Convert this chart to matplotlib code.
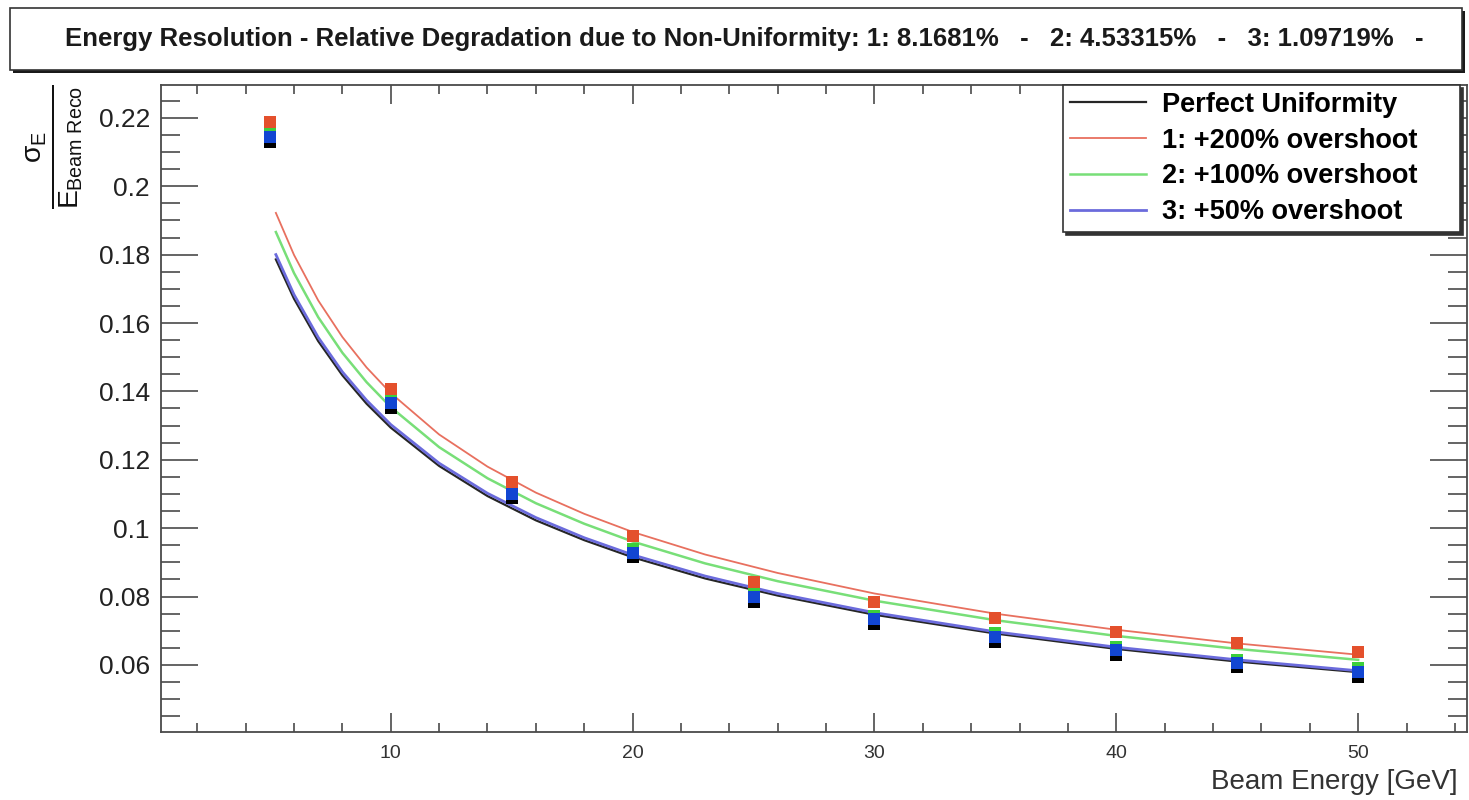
import matplotlib
matplotlib.use("Agg")
import matplotlib.pyplot as plt
from matplotlib.patches import Rectangle
from matplotlib.ticker import MultipleLocator

plt.rcParams['font.family'] = ['Liberation Sans', 'DejaVu Sans']
plt.rcParams['mathtext.fontset'] = 'custom'
plt.rcParams['mathtext.rm'] = 'Liberation Sans'
plt.rcParams['mathtext.it'] = 'Liberation Sans'
plt.rcParams['mathtext.bf'] = 'Liberation Sans:bold'

# measured resolution points per beam energy
beam_energy = [5, 10, 15, 20, 25, 30, 35, 40, 45, 50]
res_perfect = [0.2130, 0.1352, 0.1088, 0.0916, 0.0785, 0.0720, 0.0668, 0.0629, 0.0593, 0.0566]
res_os200 = [0.2189, 0.1406, 0.1136, 0.0977, 0.0844, 0.0785, 0.0737, 0.0697, 0.0663, 0.0639]
res_os100 = [0.2155, 0.1377, 0.1110, 0.0938, 0.0808, 0.0744, 0.0693, 0.0654, 0.0615, 0.0590]
res_os50 = [0.2145, 0.1367, 0.1100, 0.0928, 0.0798, 0.0734, 0.0683, 0.0644, 0.0605, 0.0580]

# fitted resolution curves, sampled
fit_energy = [5.25, 6, 7, 8, 9, 10, 12, 14, 16, 18, 20, 23, 26, 30, 35, 40, 45, 50]
fit_perfect = [0.1786, 0.1671, 0.1547, 0.1447, 0.1364, 0.1294, 0.1182, 0.1094, 0.1023,
               0.0965, 0.0915, 0.0853, 0.0803, 0.0747, 0.0692, 0.0647, 0.0610, 0.0579]
fit_os200 = [0.1922, 0.1799, 0.1666, 0.1559, 0.1470, 0.1395, 0.1274, 0.1180, 0.1104,
             0.1042, 0.0989, 0.0923, 0.0869, 0.0809, 0.0750, 0.0703, 0.0663, 0.0630]
fit_os100 = [0.1866, 0.1746, 0.1617, 0.1513, 0.1427, 0.1354, 0.1237, 0.1146, 0.1073,
             0.1013, 0.0961, 0.0897, 0.0845, 0.0788, 0.0731, 0.0685, 0.0647, 0.0615]
fit_os50 = [0.1800, 0.1683, 0.1558, 0.1457, 0.1374, 0.1303, 0.1190, 0.1102, 0.1031,
            0.0972, 0.0922, 0.0860, 0.0809, 0.0753, 0.0697, 0.0652, 0.0615, 0.0583]

labels = ["Perfect Uniformity", "1: +200% overshoot", "2: +100% overshoot", "3: +50% overshoot"]
degradation = ["8.1681", "4.53315", "1.09719"]

W, H = 1469, 800
fig = plt.figure(figsize=(W / 100, H / 100), dpi=100)
ax = fig.add_axes([161 / W, 1 - 732 / H, (1467 - 161) / W, (732 - 85) / H])

line_cols = ["#262626", "#e8705f", "#78df78", "#6b6bdc"]
mark_cols = ["#000000", "#e4502c", "#3ccf3c", "#1246d2"]
line_w = [1.6, 1.3, 1.8, 2.0]

fits = [fit_perfect, fit_os200, fit_os100, fit_os50]
pts = [res_perfect, res_os200, res_os100, res_os50]
line_z = [2.0, 2.3, 2.2, 2.1]
mark_z = [3.0, 3.3, 3.1, 3.2]

handles = []
for i in range(4):
    h, = ax.plot(fit_energy, fits[i], color=line_cols[i], lw=line_w[i], zorder=line_z[i])
    handles.append(h)
    ax.plot(beam_energy, pts[i], ls='none', marker='s', ms=8.6, mew=0,
            color=mark_cols[i], zorder=mark_z[i])

ax.set_xlim(0.5, 54.5)
ax.set_ylim(0.0404, 0.2296)

ax.xaxis.set_major_locator(MultipleLocator(10))
ax.xaxis.set_minor_locator(MultipleLocator(2))
ax.yaxis.set_major_locator(MultipleLocator(0.02))
ax.yaxis.set_minor_locator(MultipleLocator(0.005))
ax.yaxis.set_major_formatter(plt.FuncFormatter(lambda v, p: ('%.2f' % v).rstrip('0').rstrip('.')))

for s in ax.spines.values():
    s.set_color('#4a4a4a')
    s.set_linewidth(1.3)

ax.tick_params(which='both', direction='in', top=True, right=True, colors='#4a4a4a', width=1.2)
ax.tick_params(axis='x', which='major', length=13.5, labelsize=14, pad=9, labelcolor='#333333')
ax.tick_params(axis='x', which='minor', length=6.5)
ax.tick_params(axis='y', which='major', length=26.5, labelsize=19, pad=8, labelcolor='#222222')
ax.tick_params(axis='y', which='minor', length=14)

fig.text(1458 / W, 1 - 782 / H, "Beam Energy [GeV]", ha='right', va='center',
         fontsize=20, color='#333333')

fig.text(55 / W, 1 - 147 / H, r'$\frac{\sigma_{E}}{E_{\mathrm{Beam\ Reco}}}$',
         rotation=90, ha='center', va='center', fontsize=29, color='#111111')

leg = ax.legend(handles, labels, loc='upper left', bbox_to_anchor=(0.6907, 0.0, 0.3040, 1.0),
                mode='expand', borderaxespad=0, frameon=True, fancybox=False,
                prop={'weight': 'bold', 'size': 19.5}, handlelength=2.8, handletextpad=0.6,
                labelspacing=0.36, borderpad=0.25, framealpha=1,
                shadow={'ox': 2, 'oy': -2, 'facecolor': '#333333', 'edgecolor': '#333333', 'alpha': 1})
leg.get_frame().set_edgecolor('#333333')
leg.get_frame().set_linewidth(1.2)
leg.set_zorder(10)

# title pave with drop shadow
tx0, ty0, tx1, ty1 = 10, 8, 1462, 70
fig.patches.append(Rectangle(((tx0 + 3) / W, 1 - (ty1 + 3) / H), (tx1 - tx0) / W, (ty1 - ty0) / H,
                             transform=fig.transFigure, facecolor='#1a1a1a', edgecolor='none'))
fig.patches.append(Rectangle((tx0 / W, 1 - ty1 / H), (tx1 - tx0) / W, (ty1 - ty0) / H,
                             transform=fig.transFigure, facecolor='white', edgecolor='#333333', lw=1.2))
title = ("Energy Resolution - Relative Degradation due to Non-Uniformity: "
         + "".join("%d: %s%%   -   " % (i + 1, d) for i, d in enumerate(degradation))).rstrip()
fig.text(744 / W, 1 - 39 / H, title, ha='center', va='center',
         fontsize=18.5, fontweight='bold', color='#1a1a1a')

fig.savefig("out.png", dpi=100)
